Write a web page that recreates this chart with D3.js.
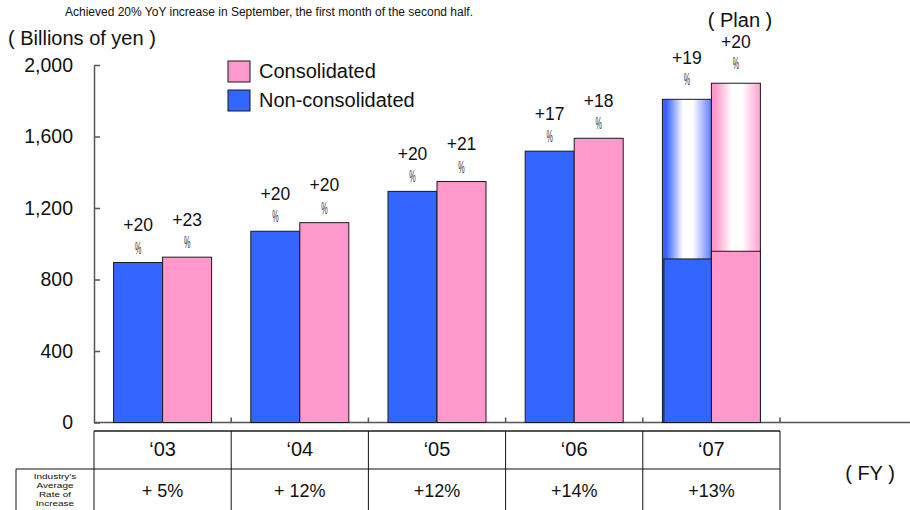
<!DOCTYPE html>
<html>
<head>
<meta charset="utf-8">
<script src="https://cdn.jsdelivr.net/npm/d3@7"></script>
<style>
  html, body { margin: 0; padding: 0; background: #fff; }
  svg { display: block; font-family: "Liberation Sans", Arial, sans-serif; }
</style>
</head>
<body>
<svg id="chart" width="910" height="510"></svg>
<script>
// Fiscal years shown on the category axis
const years = ["\u201803", "\u201804", "\u201805", "\u201806", "\u201807"];
const series = ["non", "con"];
const seriesNames = ["Non-consolidated", "Consolidated"];

// Sales, billions of yen ('07 is the full-year plan)
const nonConsolidated = [895, 1070, 1293, 1518, 1808];
const consolidated = [925, 1118, 1348, 1590, 1898];

// '07 first-half results drawn as the solid part of the plan bars [non, con]
const firstHalf07 = [915, 958];

// Year-on-year growth labels
const growthNon = ["+20", "+20", "+20", "+17", "+19"];
const growthCon = ["+23", "+20", "+21", "+18", "+20"];

// Industry's average rate of increase, one per fiscal year
const industryRates = ["+ 5%", "+ 12%", "+12%", "+14%", "+13%"];

const yTicks = [0, 400, 800, 1200, 1600, 2000];

const colors = { non: "#3366ff", con: "#ff99cc" };
const planYear = "\u201807";

const svg = d3.select("#chart");

const x = d3.scaleBand().domain(years).range([94, 780]).padding(0);
const x1 = d3.scaleBand().domain(series).range([0, x.bandwidth()]).paddingInner(0).paddingOuter(0.4);
const y = d3.scaleLinear().domain([0, 2000]).range([422.5, 65]);

// Gradients for the plan bars: saturated edges fading to white in the middle
const defs = svg.append("defs");
function planGradient(id, c, cRight) {
  const g = defs.append("linearGradient").attr("id", id)
    .attr("x1", "0%").attr("x2", "100%").attr("y1", "0%").attr("y2", "0%");
  g.append("stop").attr("offset", "0%").attr("stop-color", c);
  g.append("stop").attr("offset", "8%").attr("stop-color", c);
  g.append("stop").attr("offset", "42%").attr("stop-color", "#fff");
  g.append("stop").attr("offset", "62%").attr("stop-color", "#fff");
  g.append("stop").attr("offset", "100%").attr("stop-color", cRight);
}
planGradient("planNon", "#3a62ff", "#5f7dff");
planGradient("planCon", "#ff99cc", "#ff9fcf");

// Header texts
svg.append("text").attr("x", 65).attr("y", 16)
  .attr("font-size", 12).attr("fill", "#111")
  .text("Achieved 20% YoY increase in September, the first month of the second half.");
svg.append("text").attr("x", 8).attr("y", 45)
  .attr("font-size", 20).attr("fill", "#111")
  .text("( Billions of yen )");
svg.append("text").attr("x", 740).attr("y", 26.5).attr("text-anchor", "middle")
  .attr("font-size", 20).attr("fill", "#111")
  .text("( Plan )");

// Y axis with inward ticks
const yAxis = d3.axisLeft(y).tickValues(yTicks).tickFormat(d3.format(","))
  .tickSizeInner(-6).tickSizeOuter(0).tickPadding(21);
const gy = svg.append("g").attr("transform", "translate(94,0)").call(yAxis);
gy.select(".domain").attr("stroke", "#555").attr("stroke-width", 1.5);
gy.selectAll(".tick line").attr("stroke", "#555").attr("stroke-width", 1.5);
gy.selectAll(".tick text").attr("font-size", 19.5).attr("fill", "#111")
  .attr("font-family", "Liberation Sans, Arial, sans-serif");

// Baseline with small upward ticks at category boundaries
svg.append("line").attr("x1", 94).attr("x2", 910).attr("y1", y(0)).attr("y2", y(0))
  .attr("stroke", "#555").attr("stroke-width", 1.5);
svg.append("g").selectAll("line").data(years).join("line")
  .attr("x1", d => x(d) + x.bandwidth()).attr("x2", d => x(d) + x.bandwidth())
  .attr("y1", y(0)).attr("y2", y(0) - 5)
  .attr("stroke", "#555").attr("stroke-width", 1.5);

// Bars
const rows = years.map((yr, i) => ({
  year: yr,
  values: [
    { key: "non", value: nonConsolidated[i], growth: growthNon[i] },
    { key: "con", value: consolidated[i], growth: growthCon[i] }
  ]
}));

const groups = svg.append("g").selectAll("g").data(rows).join("g")
  .attr("transform", d => `translate(${x(d.year)},0)`);

groups.selectAll("rect.bar").data(d => d.values.map(v => ({ ...v, year: d.year }))).join("rect")
  .attr("class", "bar")
  .attr("x", d => x1(d.key))
  .attr("width", x1.bandwidth())
  .attr("y", d => y(d.value))
  .attr("height", d => y(0) - y(d.value))
  .attr("fill", d => d.year === planYear ? (d.key === "non" ? "url(#planNon)" : "url(#planCon)") : colors[d.key])
  .attr("stroke", "#1a1a1a").attr("stroke-width", 1);

// Solid first-half portion of the plan bars
const planGroup = groups.filter(d => d.year === planYear);
planGroup.selectAll("rect.half").data(series.map((k, i) => ({ key: k, value: firstHalf07[i] }))).join("rect")
  .attr("class", "half")
  .attr("x", d => x1(d.key) + (d.key === "non" ? 1.5 : 0))
  .attr("width", d => x1.bandwidth() - (d.key === "non" ? 1.5 : 0))
  .attr("y", d => y(d.value))
  .attr("height", d => y(0) - y(d.value))
  .attr("fill", d => colors[d.key])
  .attr("stroke", "#1a1a1a").attr("stroke-width", 1);

// Growth labels: number on top, narrow percent sign below
const labels = groups.selectAll("g.lbl").data(d => d.values.map(v => ({ ...v, year: d.year }))).join("g")
  .attr("class", "lbl")
  .attr("transform", d => `translate(${x1(d.key) + x1.bandwidth() / 2},${y(d.value)})`);
labels.append("text")
  .attr("y", d => d.year === planYear ? -35 : -31.5)
  .attr("text-anchor", "middle").attr("font-size", 17.5).attr("fill", "#111")
  .text(d => d.growth);
labels.append("text")
  .attr("transform", d => `translate(0,${d.year === planYear ? -14 : -9}) scale(0.42,1)`)
  .attr("text-anchor", "middle").attr("font-size", 17).attr("fill", "#333")
  .text("%");

// Legend
const legendItems = [
  { key: "con", name: seriesNames[1], y: 61 },
  { key: "non", name: seriesNames[0], y: 90 }
];
const lg = svg.append("g").selectAll("g").data(legendItems).join("g")
  .attr("transform", d => `translate(228,${d.y})`);
lg.append("rect").attr("width", 22).attr("height", 21)
  .attr("fill", d => colors[d.key]).attr("stroke", "#1a1a1a").attr("stroke-width", 1);
lg.append("text").attr("x", 31).attr("y", 16.7)
  .attr("font-size", 20).attr("fill", "#111").text(d => d.name);

// Table under the axis: fiscal years and industry growth
const tTop = 431, tMid = 469, tBot = 512;
const table = svg.append("g");
const right = x(years[years.length - 1]) + x.bandwidth();
table.append("line").attr("x1", 94).attr("x2", right).attr("y1", tTop).attr("y2", tTop)
  .attr("stroke", "#555").attr("stroke-width", 2);
table.append("line").attr("x1", 16).attr("x2", right).attr("y1", tMid).attr("y2", tMid)
  .attr("stroke", "#111").attr("stroke-width", 1);
table.append("line").attr("x1", 16).attr("x2", 16).attr("y1", tMid).attr("y2", tBot)
  .attr("stroke", "#111").attr("stroke-width", 1);
const colEdges = [x(years[0])].concat(years.map(d => x(d) + x.bandwidth()));
table.selectAll("line.col").data(colEdges).join("line").attr("class", "col")
  .attr("x1", d => d).attr("x2", d => d).attr("y1", tTop).attr("y2", tBot)
  .attr("stroke", "#111").attr("stroke-width", 1);

table.selectAll("text.yr").data(years).join("text").attr("class", "yr")
  .attr("x", d => x(d) + x.bandwidth() / 2).attr("y", 456)
  .attr("text-anchor", "middle").attr("font-size", 20).attr("fill", "#111")
  .text(d => d);
table.selectAll("text.rate").data(years).join("text").attr("class", "rate")
  .attr("x", d => x(d) + x.bandwidth() / 2).attr("y", 496.5)
  .attr("text-anchor", "middle").attr("font-size", 18).attr("fill", "#111")
  .text((d, i) => industryRates[i]);

// Row heading: four tight lines, small type stretched sideways
const rowHead = ["Industry\u2019s", "Average", "Rate of", "Increase"];
table.selectAll("text.head").data(rowHead).join("text").attr("class", "head")
  .attr("transform", (d, i) => `translate(55,${478.5 + i * 9.3}) scale(1.25,1)`)
  .attr("text-anchor", "middle").attr("font-size", 8).attr("fill", "#111")
  .text(d => d);

svg.append("text").attr("x", 870).attr("y", 480).attr("text-anchor", "middle")
  .attr("font-size", 20).attr("fill", "#111").text("( FY )");
</script>
</body>
</html>
